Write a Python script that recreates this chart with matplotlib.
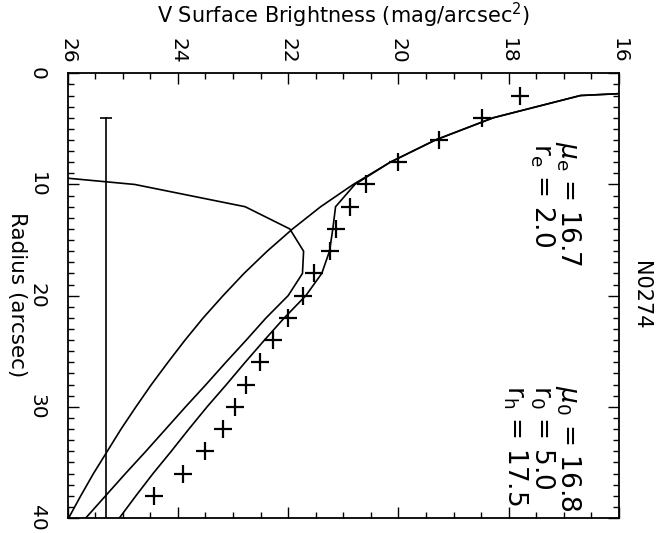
import numpy as np
import matplotlib
matplotlib.use("Agg")
import matplotlib.pyplot as plt
from matplotlib.ticker import MultipleLocator

# observed V-band surface brightness profile of N0274
radius_obs = [2, 4, 6, 8, 10, 12, 14, 16, 18, 20, 22, 24, 26, 28, 30, 32, 34, 36, 38]
mu_obs = [17.80, 18.49, 19.26, 20.00, 20.59, 20.88, 21.13, 21.24, 21.54, 21.73,
          22.00, 22.27, 22.51, 22.76, 22.96, 23.19, 23.51, 23.91, 24.44]

# model components, sampled every 2 arcsec
radius_mod = [0, 2, 4, 6, 8, 10, 12, 14, 16, 18, 20, 22, 24, 26, 28, 30, 32, 34, 36, 38, 40]
mu_bulge = [8.37, 16.70, 18.28, 19.33, 20.15, 20.82, 21.41, 21.92, 22.38, 22.80, 23.18,
            23.54, 23.87, 24.18, 24.48, 24.76, 25.03, 25.28, 25.53, 25.76, 25.98]
mu_disk = [np.nan, np.nan, np.nan, np.nan, 29.10, 24.78, 22.78, 21.97, 21.72, 21.74, 22.00,
           22.40, 22.76, 23.13, 23.49, 23.86, 24.22, 24.58, 24.95, 25.31, 25.67]
mu_total = [8.37, 16.70, 18.28, 19.33, 20.15, 20.79, 21.14, 21.19, 21.25, 21.39, 21.68,
            22.07, 22.43, 22.78, 23.12, 23.47, 23.80, 24.12, 24.45, 24.76, 25.06]

# sky limit
sky_mu = 25.3
sky_r = [4, 40]

fig = plt.figure(figsize=(6.64, 5.33), dpi=100)
ax = fig.add_axes([0.1017, 0.0281, 0.8306, 0.8344])

lw = 1.2
ax.plot(mu_bulge, radius_mod, color="black", lw=lw)
ax.plot(mu_disk, radius_mod, color="black", lw=lw)
ax.plot(mu_total, radius_mod, color="black", lw=lw)
ax.plot(mu_obs, radius_obs, "+", color="black", ms=13, mew=1.6)
ax.plot([sky_mu, sky_mu], sky_r, color="black", lw=lw)
ax.plot([sky_mu], [sky_r[0]], "_", color="black", ms=8, mew=lw)

# plot is turned on its side: brightness runs along the top, radius downwards
ax.set_xlim(26, 16)
ax.set_ylim(40, 0)
ax.xaxis.set_major_locator(MultipleLocator(2))
ax.xaxis.set_minor_locator(MultipleLocator(0.5))
ax.yaxis.set_major_locator(MultipleLocator(10))
ax.yaxis.set_minor_locator(MultipleLocator(1))
ax.tick_params(which="both", direction="in", top=True, bottom=True, left=True, right=True,
               labeltop=True, labelbottom=False, width=1.0)
ax.tick_params(which="major", length=8)
ax.tick_params(which="minor", length=4.5)
ax.tick_params(axis="x", pad=7, labelsize=14.5, labelrotation=-90)
ax.tick_params(axis="y", pad=15, labelsize=14.5, labelrotation=-90)
for lab in ax.get_yticklabels():
    lab.set_va("center")
for s in ax.spines.values():
    s.set_linewidth(1.3)

fig.text(343 / 664, 1 - 15 / 533, "V Surface Brightness (mag/arcsec$^2$)",
         ha="center", va="center", fontsize=15)
fig.text(17 / 664, 1 - 295 / 533, "Radius (arcsec)", rotation=-90,
         ha="center", va="center", fontsize=15.5)
fig.text(641 / 664, 1 - 295 / 533, "N0274", rotation=-90,
         ha="center", va="center", fontsize=15)

txt = dict(rotation=-90, rotation_mode="anchor", ha="left", va="center", fontsize=19)
ax.text(16.92, 6.1, r"$\mu_\mathrm{e}$ = 16.7", **txt)
ax.text(17.40, 6.3, r"r$_\mathrm{e}$ = 2.0", **txt)
ax.text(16.92, 28.0, r"$\mu_\mathrm{0}$ = 16.8", **txt)
ax.text(17.40, 28.0, r"r$_\mathrm{0}$ = 5.0", **txt)
ax.text(17.88, 28.0, r"r$_\mathrm{h}$ = 17.5", **txt)

fig.savefig("out.png", dpi=100)
